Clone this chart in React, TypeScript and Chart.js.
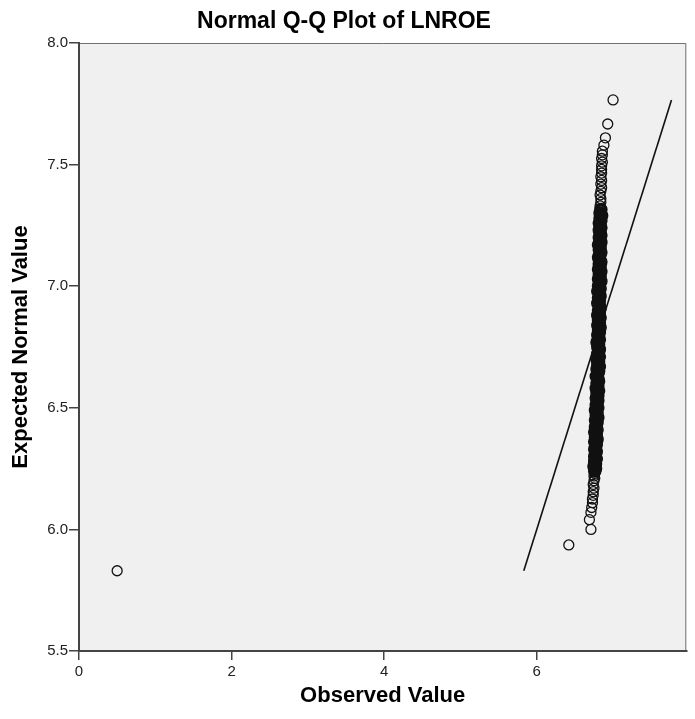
import React, { useEffect, useRef } from "react";
import { Chart, registerables } from "chart.js";

Chart.register(...registerables);

// Observed (x) and expected normal (y) values
const expectedLow = [5.83, 5.936, 6.0, 6.04, 6.07, 6.09, 6.11, 6.125, 6.14, 6.155, 6.17, 6.185, 6.2, 6.21, 6.22, 6.23];
const observedLow = [0.5, 6.42, 6.71, 6.69, 6.71, 6.72, 6.73, 6.73, 6.74, 6.74, 6.75, 6.74, 6.75, 6.76, 6.75, 6.76];

const expectedMid = [
  6.24, 6.25, 6.26, 6.27, 6.28, 6.29, 6.3, 6.31, 6.32, 6.33,
  6.34, 6.35, 6.36, 6.37, 6.38, 6.39, 6.4, 6.41, 6.42, 6.43,
  6.44, 6.45, 6.46, 6.47, 6.48, 6.49, 6.5, 6.51, 6.52, 6.53,
  6.54, 6.55, 6.56, 6.57, 6.58, 6.59, 6.6, 6.61, 6.62, 6.63,
  6.64, 6.65, 6.66, 6.67, 6.68, 6.69, 6.7, 6.71, 6.72, 6.73,
  6.74, 6.75, 6.76, 6.77, 6.78, 6.79, 6.8, 6.81, 6.82, 6.83,
  6.84, 6.85, 6.86, 6.87, 6.88, 6.89, 6.9, 6.91, 6.92, 6.93,
  6.94, 6.95, 6.96, 6.97, 6.98, 6.99, 7.0, 7.01, 7.02, 7.03,
  7.04, 7.05, 7.06, 7.07, 7.08, 7.09, 7.1, 7.11, 7.12, 7.13,
  7.14, 7.15, 7.16, 7.17, 7.18, 7.19, 7.2, 7.21, 7.22, 7.23,
  7.24, 7.25, 7.26, 7.27, 7.28, 7.29, 7.3,
];
const observedMid = [
  6.76, 6.77, 6.75, 6.77, 6.76, 6.78, 6.76, 6.77, 6.78, 6.76,
  6.77, 6.78, 6.76, 6.79, 6.77, 6.78, 6.76, 6.79, 6.77, 6.78,
  6.79, 6.77, 6.8, 6.78, 6.79, 6.77, 6.8, 6.78, 6.79, 6.8,
  6.78, 6.8, 6.79, 6.81, 6.78, 6.8, 6.79, 6.81, 6.8, 6.78,
  6.8, 6.81, 6.79, 6.82, 6.8, 6.81, 6.79, 6.82, 6.8, 6.81,
  6.82, 6.8, 6.81, 6.79, 6.82, 6.81, 6.8, 6.82, 6.81, 6.83,
  6.8, 6.82, 6.81, 6.83, 6.8, 6.82, 6.81, 6.83, 6.82, 6.8,
  6.82, 6.81, 6.83, 6.82, 6.8, 6.83, 6.81, 6.82, 6.84, 6.81,
  6.83, 6.82, 6.84, 6.81, 6.83, 6.82, 6.84, 6.82, 6.81, 6.83,
  6.84, 6.82, 6.83, 6.81, 6.84, 6.83, 6.82, 6.84, 6.83, 6.82,
  6.84, 6.83, 6.82, 6.84, 6.83, 6.85, 6.83,
];

const expectedHigh = [7.315, 7.33, 7.345, 7.36, 7.375, 7.39, 7.405, 7.42, 7.435, 7.45, 7.465, 7.48, 7.495, 7.51, 7.525, 7.54, 7.555, 7.58, 7.61, 7.667, 7.766];
const observedHigh = [6.84, 6.83, 6.84, 6.84, 6.83, 6.84, 6.85, 6.84, 6.85, 6.84, 6.85, 6.85, 6.85, 6.86, 6.85, 6.86, 6.86, 6.88, 6.9, 6.93, 7.0];

// Reference line (y = x) end points
const lineX = [5.83, 7.766];
const lineY = [5.83, 7.766];

const xTickValues = [0, 2, 4, 6];
const yTickValues = [5.5, 6.0, 6.5, 7.0, 7.5, 8.0];
const xMin = 0;
const xMax = 7.96;
const yMin = 5.5;
const yMax = 8.0;

const FONT = "'Liberation Sans', Arial, sans-serif";

const plotBg = {
  id: "plotBg",
  beforeDraw(chart: any) {
    const { ctx, chartArea } = chart;
    const { left, top, right, bottom } = chartArea;
    ctx.save();
    ctx.fillStyle = "#f0f0f0";
    ctx.fillRect(left, top, right - left, bottom - top);
    ctx.strokeStyle = "#707070";
    ctx.lineWidth = 1;
    ctx.beginPath();
    ctx.moveTo(left, top + 0.5);
    ctx.lineTo(right - 0.5, top + 0.5);
    ctx.lineTo(right - 0.5, bottom);
    ctx.stroke();
    ctx.restore();
  },
};

const inBand = (c: any) => {
  const y = c.raw ? c.raw.y : 0;
  return y > 6.23 && y < 7.32;
};

export default function App() {
  const ref = useRef<HTMLCanvasElement | null>(null);

  useEffect(() => {
    document.body.style.margin = "0";
    const canvas = ref.current;
    if (!canvas) return;

    const pts: { x: number; y: number }[] = [];
    const allObs = [...observedLow, ...observedMid, ...observedHigh];
    const allExp = [...expectedLow, ...expectedMid, ...expectedHigh];
    for (let i = 0; i < allObs.length; i++) pts.push({ x: allObs[i], y: allExp[i] });
    const linePts = lineX.map((x, i) => ({ x, y: lineY[i] }));

    const chart = new Chart(canvas, {
      type: "scatter",
      data: {
        datasets: [
          {
            type: "line",
            data: linePts,
            borderColor: "#111",
            borderWidth: 1.6,
            pointRadius: 0,
            fill: false,
            order: 2,
          } as any,
          {
            data: pts,
            pointStyle: "circle",
            pointRadius: (c: any) => (inBand(c) ? 4.9 : 5),
            backgroundColor: "rgba(0,0,0,0)",
            borderColor: "#111",
            pointBorderWidth: (c: any) => (inBand(c) ? 3.8 : 1.3),
            order: 1,
          } as any,
        ],
      },
      options: {
        animation: false,
        responsive: false,
        devicePixelRatio: 1,
        layout: { padding: { left: 0, right: 7, top: 0, bottom: 0 } },
        plugins: {
          legend: { display: false },
          tooltip: { enabled: false },
          title: {
            display: true,
            text: "Normal Q-Q Plot of LNROE",
            color: "#000",
            font: { family: FONT, size: 23, weight: "bold" },
            padding: { top: 8, bottom: 7.4 },
          },
        },
        scales: {
          x: {
            type: "linear",
            min: xMin,
            max: xMax,
            afterBuildTicks: (s: any) => {
              s.ticks = xTickValues.map((v) => ({ value: v }));
            },
            afterFit: (s: any) => {
              s.height = 68;
            },
            ticks: {
              color: "#222",
              font: { family: FONT, size: 15 },
              padding: 3,
              maxRotation: 0,
              callback: (v: any) => String(v),
            },
            grid: { drawOnChartArea: false, drawTicks: true, tickLength: 9, color: "#444", lineWidth: 1.5 },
            border: { display: true, color: "#444", width: 2 },
            title: {
              display: true,
              text: "Observed Value",
              color: "#000",
              font: { family: FONT, size: 22, weight: "bold" },
              padding: { top: 0, bottom: 10 },
            },
          },
          y: {
            type: "linear",
            min: yMin,
            max: yMax,
            afterBuildTicks: (s: any) => {
              s.ticks = yTickValues.map((v) => ({ value: v }));
            },
            afterFit: (s: any) => {
              s.width = 79;
            },
            ticks: {
              color: "#222",
              font: { family: FONT, size: 15 },
              padding: 1,
              callback: (v: any) => Number(v).toFixed(1),
            },
            grid: { drawOnChartArea: false, drawTicks: true, tickLength: 10, color: "#444", lineWidth: 1.5 },
            border: { display: true, color: "#444", width: 2 },
            title: {
              display: true,
              text: "Expected Normal Value",
              color: "#000",
              font: { family: FONT, size: 22, weight: "bold" },
              padding: { top: 8, bottom: 0 },
            },
          },
        },
      },
      plugins: [plotBg],
    });

    return () => chart.destroy();
  }, []);

  return (
    <div style={{ width: 695, height: 719 }}>
      <canvas ref={ref} width={695} height={719} style={{ display: "block" }} />
    </div>
  );
}
